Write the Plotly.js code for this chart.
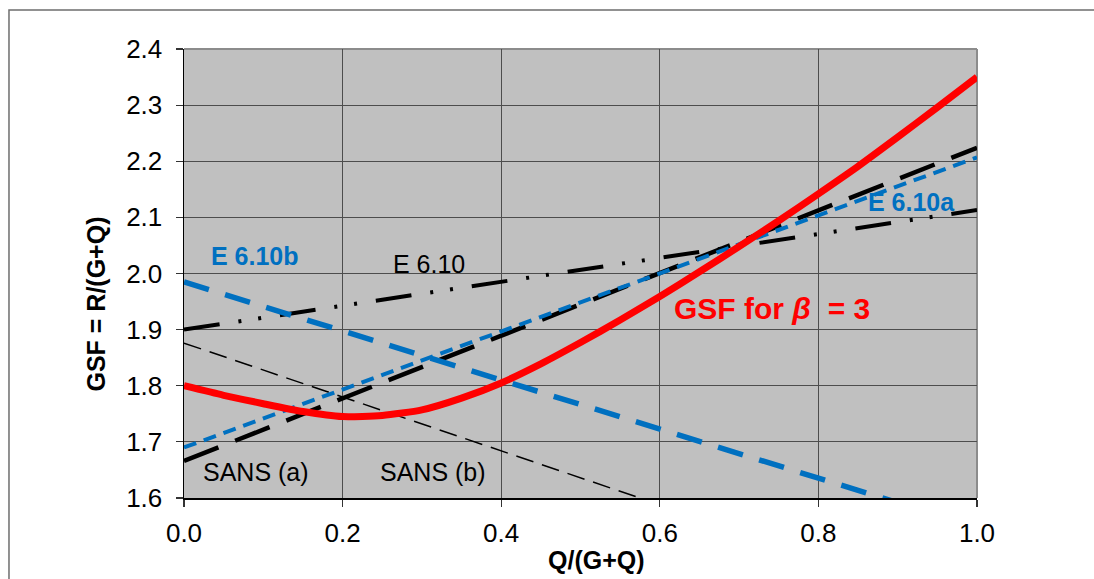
<!DOCTYPE html>
<html><head><meta charset="utf-8">
<script src="https://cdn.plot.ly/plotly-3.0.1.min.js"></script>
<style>html,body{margin:0;padding:0;background:#fff}</style>
</head><body><div id="chart" style="width:1094px;height:579px"></div>
<script>
// Data
const gsfX = [0, 0.05, 0.1, 0.15, 0.2, 0.25, 0.3, 0.35, 0.4, 0.45, 0.5, 0.55, 0.6, 0.65, 0.7, 0.75, 0.8, 0.85, 0.9, 0.95, 1.0];
const gsfY = [1.800, 1.783, 1.768, 1.754, 1.745, 1.747, 1.757, 1.778, 1.805, 1.839, 1.877, 1.917, 1.959, 2.003, 2.048, 2.094, 2.142, 2.191, 2.243, 2.296, 2.350];
const lineX = [0, 1];
const e610Y = [1.900, 2.113];
const e610aY = [1.690, 2.207];
const e610bY = [1.985, 1.548];
const sansAY = [1.666, 2.224];
const sansBY = [1.876, 1.396];
const xTicks = [0, 0.2, 0.4, 0.6, 0.8, 1.0];
const xTickText = ['0.0', '0.2', '0.4', '0.6', '0.8', '1.0'];
const yTicks = [1.6, 1.7, 1.8, 1.9, 2.0, 2.1, 2.2, 2.3, 2.4];
const yTickText = ['1.6', '1.7', '1.8', '1.9', '2.0', '2.1', '2.2', '2.3', '2.4'];

const FONT = 'Liberation Sans, Arial, sans-serif';
const BLUE = '#0070C0';

const traces = [
  {x: lineX, y: e610Y, mode: 'lines', name: 'E 6.10',
   line: {color: '#000', width: 4, dash: '36px,19px,3px,17px,3px,19px'}},
  {x: lineX, y: sansBY, mode: 'lines', name: 'SANS (b)',
   line: {color: '#000', width: 1.5, dash: '18px,9px'}},
  {x: lineX, y: sansAY, mode: 'lines', name: 'SANS (a)',
   line: {color: '#000', width: 4.5, dash: '37px,18px'}},
  {x: lineX, y: e610aY, mode: 'lines', name: 'E 6.10a',
   line: {color: BLUE, width: 4, dash: '13px,8px'}},
  {x: lineX, y: e610bY, mode: 'lines', name: 'E 6.10b',
   line: {color: BLUE, width: 5.5, dash: '26px,17px'}},
  {x: gsfX, y: gsfY, mode: 'lines', name: 'GSF',
   line: {color: '#FF0000', width: 7, shape: 'spline', smoothing: 0.6}}
];

const axisCommon = {
  showgrid: true, gridcolor: '#4d4d4d', gridwidth: 1,
  showline: true, linecolor: '#000', linewidth: 1.5,
  ticks: 'outside', ticklen: 7, tickcolor: '#333', tickwidth: 1.2,
  tickfont: {family: FONT, size: 26, color: '#000'},
  zeroline: false, fixedrange: true
};

const layout = {
  width: 1094, height: 579,
  margin: {l: 184, r: 117, t: 49, b: 81},
  paper_bgcolor: '#fff', plot_bgcolor: '#C0C0C0',
  showlegend: false,
  font: {family: FONT, color: '#000'},
  xaxis: Object.assign({}, axisCommon, {range: [0, 1], tickvals: xTicks, ticktext: xTickText, ticklabelstandoff: 4}),
  yaxis: Object.assign({}, axisCommon, {range: [1.6, 2.4], tickvals: yTicks, ticktext: yTickText, ticklabelstandoff: 8}),
  shapes: [
    {type: 'rect', xref: 'paper', yref: 'paper', x0: -0.2207, x1: 1.6, y0: -0.6, y1: 1.0869,
     line: {color: '#6e6e6e', width: 1.5}, fillcolor: 'rgba(0,0,0,0)', layer: 'below'},
    {type: 'line', xref: 'paper', yref: 'paper', x0: 0, x1: 1, y0: 1, y1: 1,
     line: {color: '#8c8c8c', width: 2}, layer: 'between'},
    {type: 'line', xref: 'paper', yref: 'paper', x0: 1, x1: 1, y0: 0, y1: 1,
     line: {color: '#8c8c8c', width: 2}, layer: 'between'}
  ],
  annotations: [
    {x: 0.0895, y: 2.032, xref: 'x', yref: 'y', text: '<b>E 6.10b</b>', showarrow: false,
     xanchor: 'center', yanchor: 'middle', font: {family: FONT, size: 25, color: BLUE}},
    {x: 0.309, y: 2.017, xref: 'x', yref: 'y', text: 'E 6.10', showarrow: false,
     xanchor: 'center', yanchor: 'middle', font: {family: FONT, size: 25, color: '#000'}},
    {x: 0.918, y: 2.128, xref: 'x', yref: 'y', text: '<b>E 6.10a</b>', showarrow: false,
     xanchor: 'center', yanchor: 'middle', font: {family: FONT, size: 25, color: BLUE}},
    {x: 0.7415, y: 1.937, xref: 'x', yref: 'y', text: '<b>GSF for <i>β</i>  = 3</b>', showarrow: false,
     xanchor: 'center', yanchor: 'middle', font: {family: FONT, size: 30, color: '#FF0000'}},
    {x: 0.0914, y: 1.646, xref: 'x', yref: 'y', text: 'SANS (a)', showarrow: false,
     xanchor: 'center', yanchor: 'middle', font: {family: FONT, size: 25, color: '#000'}},
    {x: 0.314, y: 1.646, xref: 'x', yref: 'y', text: 'SANS (b)', showarrow: false,
     xanchor: 'center', yanchor: 'middle', font: {family: FONT, size: 25, color: '#000'}},
    {x: -0.111, y: 0.433, xref: 'paper', yref: 'paper', text: '<b>GSF = R/(G+Q)</b>', showarrow: false,
     xanchor: 'center', yanchor: 'middle', textangle: -90, font: {family: FONT, size: 25, color: '#000'}},
    {x: 0.5196, y: -0.138, xref: 'paper', yref: 'paper', text: '<b>Q/(G+Q)</b>', showarrow: false,
     xanchor: 'center', yanchor: 'middle', font: {family: FONT, size: 25, color: '#000'}}
  ]
};

Plotly.newPlot('chart', traces, layout, {staticPlot: true, displayModeBar: false});
</script>
</body></html>
